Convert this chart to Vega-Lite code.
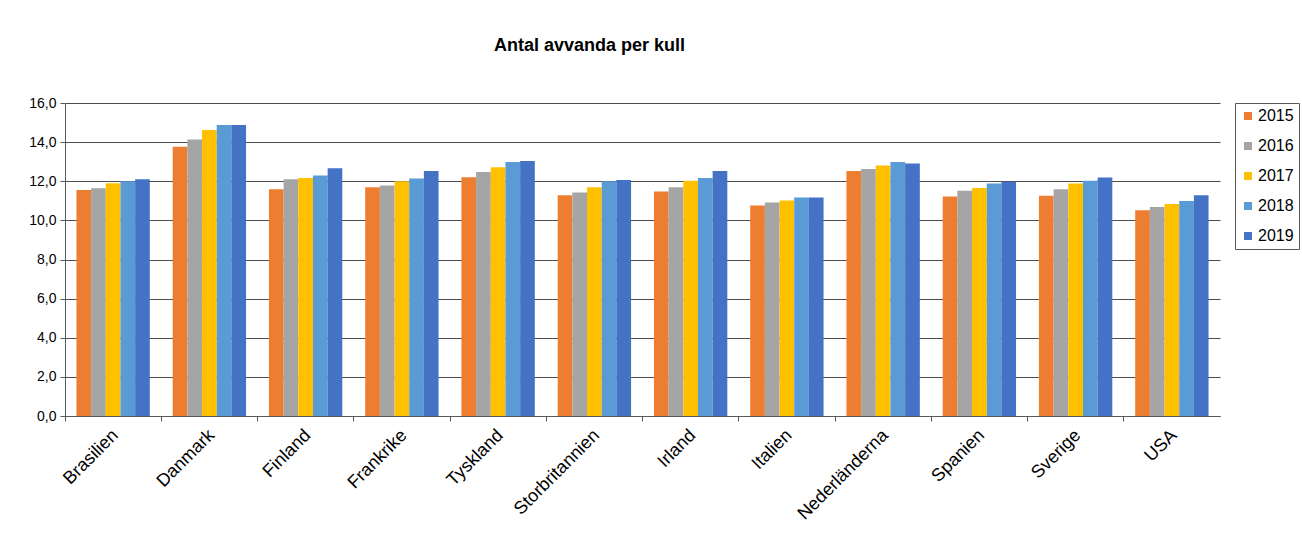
{
  "$schema": "https://vega.github.io/schema/vega-lite/v6.json",
  "autosize": {"type": "none"},
  "width": 1155,
  "height": 313,
  "padding": {"left": 65, "top": 103, "right": 82, "bottom": 128},
  "background": "white",
  "title": {
    "text": "Antal avvanda per kull",
    "fontSize": 18,
    "fontWeight": "bold",
    "font": "Liberation Sans",
    "color": "#000000",
    "anchor": "middle",
    "dx": -53,
    "offset": 41
  },
  "data": {
    "values": [
      {"land": "Brasilien", "year": "2015", "value": 11.55},
      {"land": "Brasilien", "year": "2016", "value": 11.64},
      {"land": "Brasilien", "year": "2017", "value": 11.9},
      {"land": "Brasilien", "year": "2018", "value": 12.0},
      {"land": "Brasilien", "year": "2019", "value": 12.1},
      {"land": "Danmark", "year": "2015", "value": 13.76},
      {"land": "Danmark", "year": "2016", "value": 14.14},
      {"land": "Danmark", "year": "2017", "value": 14.62},
      {"land": "Danmark", "year": "2018", "value": 14.88},
      {"land": "Danmark", "year": "2019", "value": 14.88},
      {"land": "Finland", "year": "2015", "value": 11.59},
      {"land": "Finland", "year": "2016", "value": 12.1},
      {"land": "Finland", "year": "2017", "value": 12.16},
      {"land": "Finland", "year": "2018", "value": 12.29},
      {"land": "Finland", "year": "2019", "value": 12.66},
      {"land": "Frankrike", "year": "2015", "value": 11.69},
      {"land": "Frankrike", "year": "2016", "value": 11.78},
      {"land": "Frankrike", "year": "2017", "value": 12.0},
      {"land": "Frankrike", "year": "2018", "value": 12.14},
      {"land": "Frankrike", "year": "2019", "value": 12.52},
      {"land": "Tyskland", "year": "2015", "value": 12.21},
      {"land": "Tyskland", "year": "2016", "value": 12.47},
      {"land": "Tyskland", "year": "2017", "value": 12.72},
      {"land": "Tyskland", "year": "2018", "value": 12.98},
      {"land": "Tyskland", "year": "2019", "value": 13.03},
      {"land": "Storbritannien", "year": "2015", "value": 11.29},
      {"land": "Storbritannien", "year": "2016", "value": 11.43},
      {"land": "Storbritannien", "year": "2017", "value": 11.69},
      {"land": "Storbritannien", "year": "2018", "value": 12.0},
      {"land": "Storbritannien", "year": "2019", "value": 12.07},
      {"land": "Irland", "year": "2015", "value": 11.48},
      {"land": "Irland", "year": "2016", "value": 11.69},
      {"land": "Irland", "year": "2017", "value": 12.03},
      {"land": "Irland", "year": "2018", "value": 12.17},
      {"land": "Irland", "year": "2019", "value": 12.52},
      {"land": "Italien", "year": "2015", "value": 10.76},
      {"land": "Italien", "year": "2016", "value": 10.91},
      {"land": "Italien", "year": "2017", "value": 11.02},
      {"land": "Italien", "year": "2018", "value": 11.17},
      {"land": "Italien", "year": "2019", "value": 11.17},
      {"land": "Nederländerna", "year": "2015", "value": 12.52},
      {"land": "Nederländerna", "year": "2016", "value": 12.62},
      {"land": "Nederländerna", "year": "2017", "value": 12.81},
      {"land": "Nederländerna", "year": "2018", "value": 12.98},
      {"land": "Nederländerna", "year": "2019", "value": 12.91},
      {"land": "Spanien", "year": "2015", "value": 11.22},
      {"land": "Spanien", "year": "2016", "value": 11.52},
      {"land": "Spanien", "year": "2017", "value": 11.66},
      {"land": "Spanien", "year": "2018", "value": 11.88},
      {"land": "Spanien", "year": "2019", "value": 11.98},
      {"land": "Sverige", "year": "2015", "value": 11.26},
      {"land": "Sverige", "year": "2016", "value": 11.59},
      {"land": "Sverige", "year": "2017", "value": 11.88},
      {"land": "Sverige", "year": "2018", "value": 12.03},
      {"land": "Sverige", "year": "2019", "value": 12.19},
      {"land": "USA", "year": "2015", "value": 10.52},
      {"land": "USA", "year": "2016", "value": 10.69},
      {"land": "USA", "year": "2017", "value": 10.84},
      {"land": "USA", "year": "2018", "value": 10.99},
      {"land": "USA", "year": "2019", "value": 11.29}
    ]
  },
  "mark": {"type": "bar"},
  "encoding": {
    "x": {
      "field": "land",
      "type": "nominal",
      "sort": null,
      "scale": {"paddingInner": 0, "paddingOuter": 0},
      "axis": {
        "title": null,
        "bandPosition": 0,
        "labelAngle": -45,
        "labelAlign": "right",
        "labelBaseline": "top",
        "labelFontSize": 18,
        "labelFont": "Liberation Sans",
        "labelColor": "#000000",
        "labelPadding": 5,
        "labelOffset": -4,
        "domainColor": "#595959",
        "tickColor": "#595959",
        "tickSize": 5,
        "grid": false
      }
    },
    "xOffset": {
      "field": "year",
      "type": "nominal",
      "scale": {"paddingInner": 0, "paddingOuter": 0.78}
    },
    "y": {
      "field": "value",
      "type": "quantitative",
      "scale": {"domain": [0, 16], "nice": false},
      "axis": {
        "title": null,
        "values": [0, 2, 4, 6, 8, 10, 12, 14, 16],
        "labelExpr": "replace(format(datum.value, '.1f'), '.', ',')",
        "labelFontSize": 14,
        "labelFont": "Liberation Sans",
        "labelColor": "#000000",
        "labelPadding": 4,
        "domainColor": "#595959",
        "tickColor": "#595959",
        "tickSize": 5,
        "grid": true,
        "gridColor": "#4d4d4d",
        "gridWidth": 1
      }
    },
    "color": {
      "field": "year",
      "type": "nominal",
      "scale": {
        "domain": ["2015", "2016", "2017", "2018", "2019"],
        "range": ["#ED7D31", "#A5A5A5", "#FFC000", "#5B9BD5", "#4472C4"]
      },
      "legend": {
        "title": null,
        "orient": "none",
        "legendX": 1170,
        "legendY": 0,
        "symbolType": "square",
        "symbolSize": 64,
        "symbolStrokeWidth": 0,
        "labelFontSize": 16,
        "labelFont": "Liberation Sans",
        "labelColor": "#000000",
        "labelOffset": 2,
        "rowPadding": 14,
        "padding": 5,
        "strokeColor": "#595959",
        "fillColor": "white"
      }
    }
  },
  "config": {
    "view": {"stroke": null}
  }
}
